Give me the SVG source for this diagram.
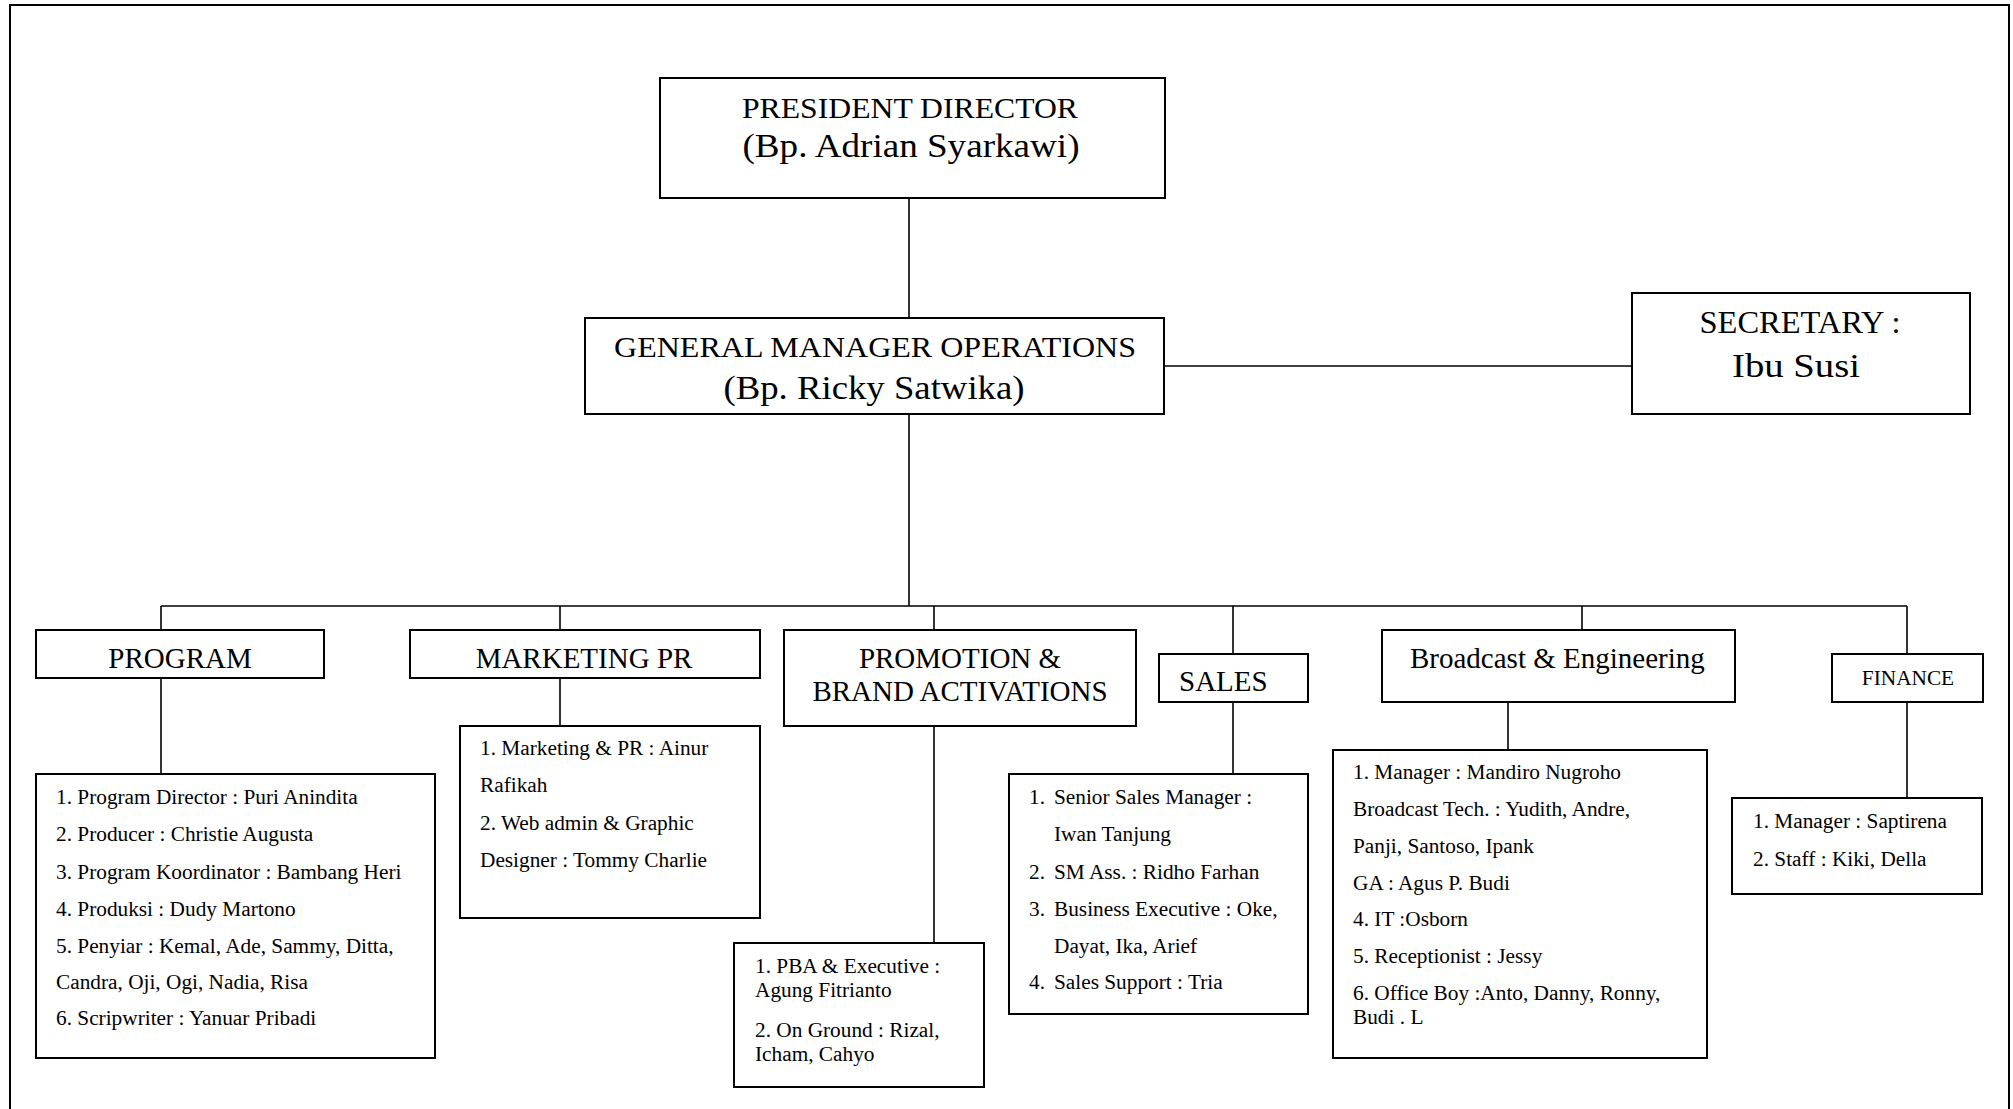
<svg xmlns="http://www.w3.org/2000/svg" width="2013" height="1109" viewBox="0 0 2013 1109">
<style>
  .box { fill: #fff; stroke: #000; stroke-width: 2; }
  .conn { stroke: #000; stroke-width: 1.6; fill: none; }
  text { font-family: "Liberation Serif", "Times New Roman", serif; fill: #000; }
  .tc { text-anchor: middle; }
  .h { font-size: 29px; }
  .hc { font-size: 29px; text-anchor: middle; }
  .d { font-size: 21.3px; }
</style>
<rect x="0" y="0" width="2013" height="1109" fill="#fff"/>
<rect x="10" y="5" width="1999" height="1120" fill="none" stroke="#000" stroke-width="2"/>

<g id="connectors">
  <line class="conn" x1="909" y1="198" x2="909" y2="318"/>
  <line class="conn" x1="1164" y1="366" x2="1632" y2="366"/>
  <line class="conn" x1="909" y1="414" x2="909" y2="606"/>
  <line class="conn" x1="161" y1="606" x2="1907" y2="606"/>
  <line class="conn" x1="161" y1="606" x2="161" y2="630"/>
  <line class="conn" x1="560" y1="606" x2="560" y2="630"/>
  <line class="conn" x1="934" y1="606" x2="934" y2="630"/>
  <line class="conn" x1="1233" y1="606" x2="1233" y2="654"/>
  <line class="conn" x1="1582" y1="606" x2="1582" y2="630"/>
  <line class="conn" x1="1907" y1="606" x2="1907" y2="654"/>
  <line class="conn" x1="161" y1="678" x2="161" y2="774"/>
  <line class="conn" x1="560" y1="678" x2="560" y2="726"/>
  <line class="conn" x1="934" y1="726" x2="934" y2="943"/>
  <line class="conn" x1="1233" y1="702" x2="1233" y2="774"/>
  <line class="conn" x1="1508" y1="702" x2="1508" y2="750"/>
  <line class="conn" x1="1907" y1="702" x2="1907" y2="798"/>
</g>

<g id="president">
  <rect class="box" x="660" y="78" width="505" height="120"/>
  <text class="tc" x="910" y="117.5" font-size="29" textLength="336" lengthAdjust="spacingAndGlyphs">PRESIDENT DIRECTOR</text>
  <text class="tc" x="911" y="157" font-size="34" textLength="337" lengthAdjust="spacingAndGlyphs">(Bp. Adrian Syarkawi)</text>
</g>

<g id="gm">
  <rect class="box" x="585" y="318" width="579" height="96"/>
  <text class="tc" x="875" y="357" font-size="30" textLength="522" lengthAdjust="spacingAndGlyphs">GENERAL MANAGER OPERATIONS</text>
  <text class="tc" x="874" y="399" font-size="34" textLength="301" lengthAdjust="spacingAndGlyphs">(Bp. Ricky Satwika)</text>
</g>

<g id="secretary">
  <rect class="box" x="1632" y="293" width="338" height="121"/>
  <text class="tc" x="1800" y="333" font-size="31" textLength="201" lengthAdjust="spacingAndGlyphs">SECRETARY :</text>
  <text class="tc" x="1796" y="377" font-size="34" textLength="128" lengthAdjust="spacingAndGlyphs">Ibu Susi</text>
</g>

<g id="program">
  <rect class="box" x="36" y="630" width="288" height="48"/>
  <text class="hc" x="180" y="668">PROGRAM</text>
</g>
<g id="program-staff">
  <rect class="box" x="36" y="774" width="399" height="284"/>
  <text class="d" x="56" y="804">1. Program Director : Puri Anindita</text>
  <text class="d" x="56" y="841">2. Producer : Christie Augusta</text>
  <text class="d" x="56" y="879">3. Program Koordinator : Bambang Heri</text>
  <text class="d" x="56" y="916">4. Produksi : Dudy Martono</text>
  <text class="d" x="56" y="953">5. Penyiar : Kemal, Ade, Sammy, Ditta,</text>
  <text class="d" x="56" y="989">Candra, Oji, Ogi, Nadia, Risa</text>
  <text class="d" x="56" y="1025">6. Scripwriter : Yanuar Pribadi</text>
</g>

<g id="marketing">
  <rect class="box" x="410" y="630" width="350" height="48"/>
  <text class="hc" x="584" y="668">MARKETING PR</text>
</g>
<g id="marketing-staff">
  <rect class="box" x="460" y="726" width="300" height="192"/>
  <text class="d" x="480" y="755">1. Marketing &amp; PR : Ainur</text>
  <text class="d" x="480" y="792">Rafikah</text>
  <text class="d" x="480" y="830">2. Web admin &amp; Graphic</text>
  <text class="d" x="480" y="867">Designer : Tommy Charlie</text>
</g>

<g id="promotion">
  <rect class="box" x="784" y="630" width="352" height="96"/>
  <text class="hc" x="960" y="668">PROMOTION &amp;</text>
  <text class="hc" x="960" y="701">BRAND ACTIVATIONS</text>
</g>
<g id="promotion-staff">
  <rect class="box" x="734" y="943" width="250" height="144"/>
  <text class="d" x="755" y="973">1. PBA &amp; Executive :</text>
  <text class="d" x="755" y="997">Agung Fitrianto</text>
  <text class="d" x="755" y="1037">2. On Ground : Rizal,</text>
  <text class="d" x="755" y="1061">Icham, Cahyo</text>
</g>

<g id="sales">
  <rect class="box" x="1159" y="654" width="149" height="48"/>
  <text class="h" x="1179" y="691">SALES</text>
</g>
<g id="sales-staff">
  <rect class="box" x="1009" y="774" width="299" height="240"/>
  <text class="d" x="1029" y="804">1.</text>
  <text class="d" x="1054" y="804">Senior Sales Manager :</text>
  <text class="d" x="1054" y="841">Iwan Tanjung</text>
  <text class="d" x="1029" y="879">2.</text>
  <text class="d" x="1054" y="879">SM Ass. : Ridho Farhan</text>
  <text class="d" x="1029" y="916">3.</text>
  <text class="d" x="1054" y="916">Business Executive : Oke,</text>
  <text class="d" x="1054" y="953">Dayat, Ika, Arief</text>
  <text class="d" x="1029" y="989">4.</text>
  <text class="d" x="1054" y="989">Sales Support : Tria</text>
</g>

<g id="broadcast">
  <rect class="box" x="1382" y="630" width="353" height="72"/>
  <text class="h" x="1410" y="668">Broadcast &amp; Engineering</text>
</g>
<g id="broadcast-staff">
  <rect class="box" x="1333" y="750" width="374" height="308"/>
  <text class="d" x="1353" y="779">1. Manager : Mandiro Nugroho</text>
  <text class="d" x="1353" y="816">Broadcast Tech. : Yudith, Andre,</text>
  <text class="d" x="1353" y="853">Panji, Santoso, Ipank</text>
  <text class="d" x="1353" y="890">GA : Agus P. Budi</text>
  <text class="d" x="1353" y="926">4. IT :Osborn</text>
  <text class="d" x="1353" y="963">5. Receptionist : Jessy</text>
  <text class="d" x="1353" y="1000">6. Office Boy :Anto, Danny, Ronny,</text>
  <text class="d" x="1353" y="1024">Budi . L</text>
</g>

<g id="finance">
  <rect class="box" x="1832" y="654" width="151" height="48"/>
  <text class="d" x="1908" y="685" text-anchor="middle">FINANCE</text>
</g>
<g id="finance-staff">
  <rect class="box" x="1732" y="798" width="250" height="96"/>
  <text class="d" x="1753" y="828">1. Manager : Saptirena</text>
  <text class="d" x="1753" y="866">2. Staff : Kiki, Della</text>
</g>
</svg>
